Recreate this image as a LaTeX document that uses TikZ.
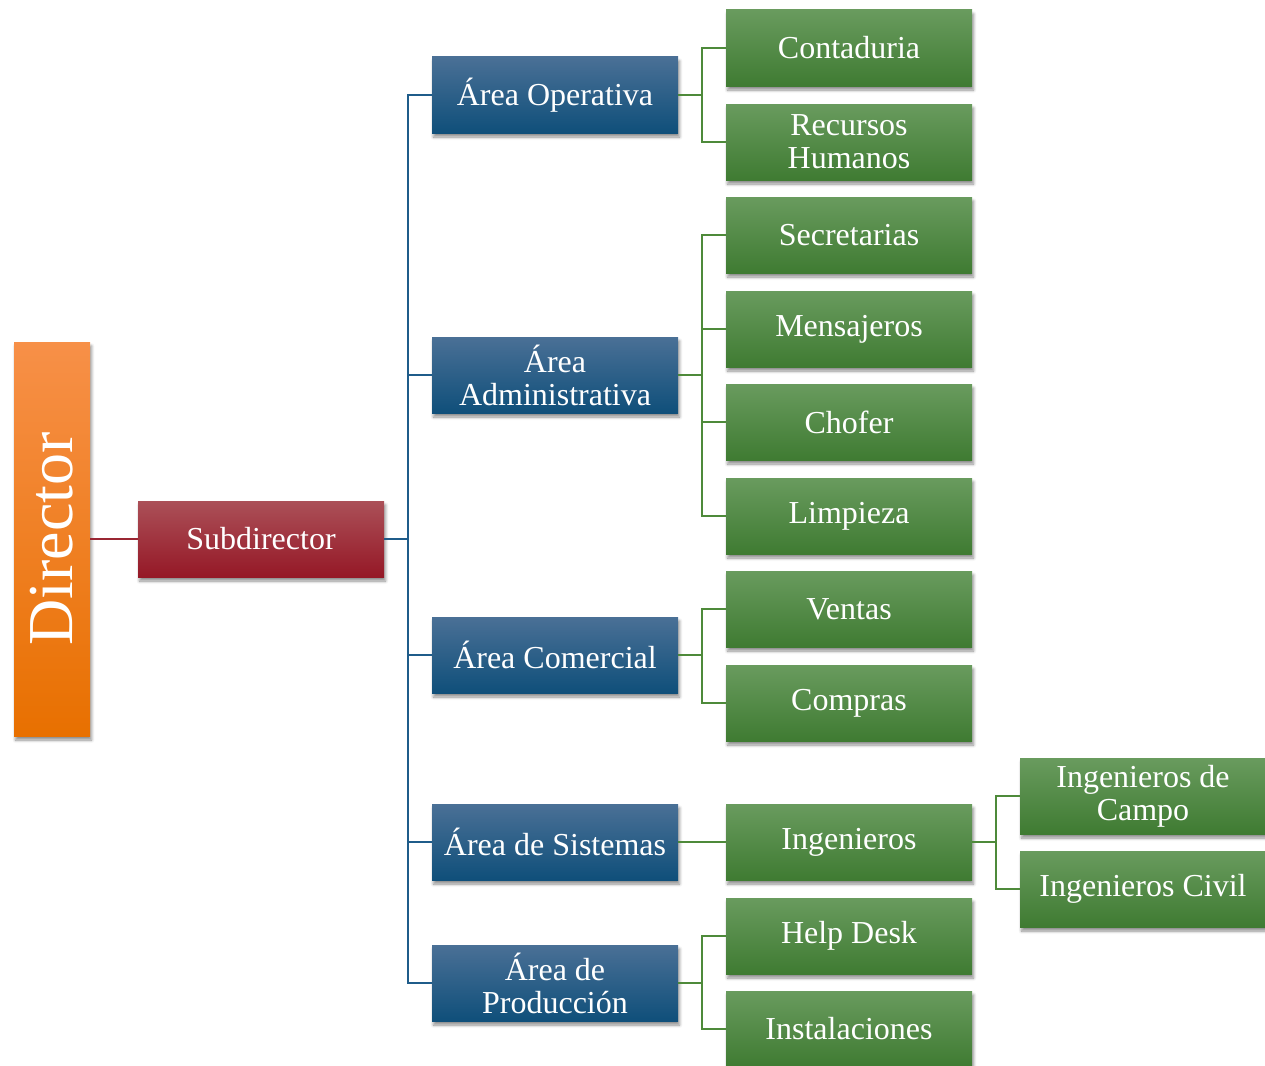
\documentclass[tikz,border=0pt]{standalone}
\usepackage{fontspec}
\setmainfont{Liberation Serif}
\usetikzlibrary{shadows.blur}

\definecolor{orgtop}{HTML}{F79048}
\definecolor{orgbot}{HTML}{E87000}
\definecolor{redtop}{HTML}{AB5058}
\definecolor{redbot}{HTML}{951826}
\definecolor{blutop}{HTML}{4A7096}
\definecolor{blubot}{HTML}{0F4F7A}
\definecolor{grntop}{HTML}{699B5E}
\definecolor{grnbot}{HTML}{3F7B32}
\definecolor{redline}{HTML}{9A2633}
\definecolor{bluline}{HTML}{1F5C8A}
\definecolor{grnline}{HTML}{4E8A3A}

\begin{document}
\begin{tikzpicture}
[x=1pt, y=1pt,
 every node/.style={inner sep=0pt, text=white, align=center, font=\fontsize{32}{33}\selectfont},
 shade/.style={blur shadow={shadow xshift=1.5pt, shadow yshift=-4pt, shadow blur steps=6, shadow blur radius=3pt, shadow opacity=45}},
 box/.style={rectangle, minimum width=246pt, minimum height=76pt, shade},
 chief/.style={rectangle, minimum width=76pt, minimum height=394pt,
   top color=orgtop, middle color=orgtop!30!orgbot, bottom color=orgbot,
   shade, font=\fontsize{64}{64}\selectfont},
 subbox/.style={box, top color=redtop, middle color=redtop!35!redbot, bottom color=redbot},
 area/.style={box, top color=blutop, middle color=blutop!30!blubot, bottom color=blubot},
 unit/.style={box, top color=grntop, middle color=grntop!30!grnbot, bottom color=grnbot},
 redlink/.style={draw=redline, line width=2pt},
 blulink/.style={draw=bluline, line width=2.5pt},
 grnlink/.style={draw=grnline, line width=2.5pt}]
\useasboundingbox (0,0) rectangle (1265,-1065);

\node (dir) [chief] at (52,-539) {\rotatebox{90}{Director}};
\node (sub) [subbox] at (261,-539) {Subdirector};

\node (op) [area] at (555,-95) {Área Operativa};
\node (adm) [area] at (555,-375) {Área\\Administrativa};
\node (com) [area] at (555,-655) {Área Comercial};
\node (sis) [area] at (555,-842) {Área de Sistemas};
\node (prod) [area] at (555,-983) {Área de\\Producción};

\node (cont) [unit] at (849,-48) {Contaduria};
\node (rh) [unit] at (849,-142) {Recursos\\Humanos};
\node (sec) [unit] at (849,-235) {Secretarias};
\node (mens) [unit] at (849,-329) {Mensajeros};
\node (chof) [unit] at (849,-422) {Chofer};
\node (limp) [unit] at (849,-516) {Limpieza};
\node (vent) [unit] at (849,-609) {Ventas};
\node (comp) [unit] at (849,-703) {Compras};
\node (ing) [unit] at (849,-842) {Ingenieros};
\node (help) [unit] at (849,-936) {Help Desk};
\node (inst) [unit] at (849,-1029) {Instalaciones};

\node (campo) [unit] at (1143,-796) {Ingenieros de\\Campo};
\node (civil) [unit] at (1143,-889) {Ingenieros Civil};

% director -> subdirector
\draw [redlink] (dir.east) -- (sub.west);

% subdirector -> areas
\foreach \a in {op, adm, com, sis, prod}
  \draw [blulink] (sub.east) -- ++(24,0) |- (\a.west);

% areas -> units
\foreach \u in {cont, rh}
  \draw [grnlink] (op.east) -- ++(24,0) |- (\u.west);
\foreach \u in {sec, mens, chof, limp}
  \draw [grnlink] (adm.east) -- ++(24,0) |- (\u.west);
\foreach \u in {vent, comp}
  \draw [grnlink] (com.east) -- ++(24,0) |- (\u.west);
\draw [grnlink] (sis.east) -- (ing.west);
\foreach \u in {help, inst}
  \draw [grnlink] (prod.east) -- ++(24,0) |- (\u.west);
\foreach \u in {campo, civil}
  \draw [grnlink] (ing.east) -- ++(24,0) |- (\u.west);

\end{tikzpicture}
\end{document}
